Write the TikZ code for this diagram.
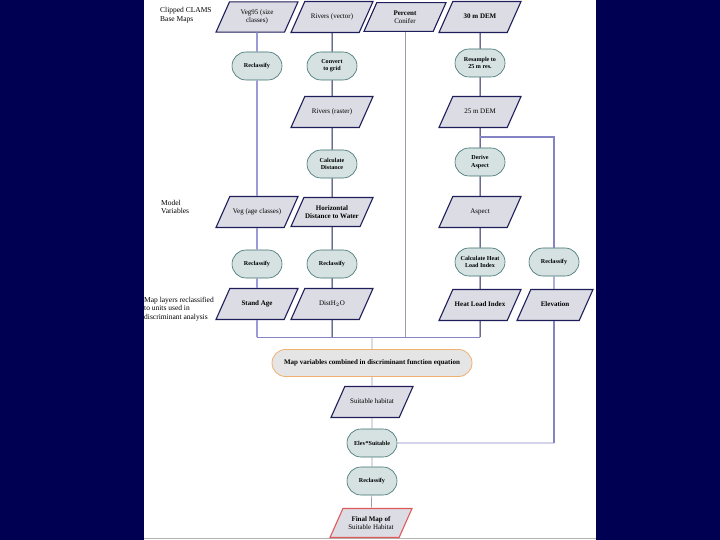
\documentclass[tikz,border=0pt]{standalone}
\usepackage{fontspec}
\setmainfont{Liberation Serif}
\usepackage{tikz}
\usetikzlibrary{shapes.geometric,shapes.misc,positioning}
\definecolor{slide}{HTML}{000052}
\definecolor{layerfill}{HTML}{DCDCE4}
\definecolor{layerline}{HTML}{1E1E5A}
\definecolor{procfill}{HTML}{D6E2E2}
\definecolor{procline}{HTML}{3C6E6E}
\definecolor{vegline}{HTML}{9A9AD6}
\definecolor{conline}{HTML}{9A9AAA}
\definecolor{elevline}{HTML}{8484C4}
\definecolor{combline}{HTML}{F0B070}
\definecolor{finalline}{HTML}{E05A5A}
\tikzset{layerbase/.style={draw=layerline,fill=layerfill,line width=1.1pt,trapezium,
    trapezium left angle=66,trapezium right angle=114,trapezium stretches body,
    minimum width=82pt,inner xsep=1pt,align=center,
    font=\fontsize{7}{8.4}\selectfont}}
% one line of text
\tikzset{layer/.style={layerbase,inner ysep=12.4pt,text height=4.8pt,text depth=1.4pt}}
% two lines of text
\tikzset{layertwo/.style={layerbase,inner ysep=7.8pt}}
\tikzset{process/.style={draw=procline,fill=procfill,line width=0.6pt,rounded rectangle,
    minimum width=52pt,minimum height=28pt,inner sep=1pt,align=center,
    font=\fontsize{6.1}{7.2}\selectfont\bfseries}}
\tikzset{combine/.style={draw=combline,fill=gray!20,line width=0.8pt,rounded rectangle,
    minimum width=202pt,minimum height=27pt,inner sep=1pt,
    font=\fontsize{7}{8}\selectfont\bfseries}}
\tikzset{note/.style={anchor=west,align=left,inner sep=0pt,font=\fontsize{7.5}{8.8}\selectfont}}
\tikzset{wire/.style={draw=layerline,line width=1pt}}
\tikzset{vegwire/.style={draw=vegline,line width=1.8pt}}
\tikzset{conwire/.style={draw=conline,line width=0.7pt}}
\tikzset{elevwire/.style={draw=elevline,line width=1.2pt}}
\begin{document}
\begin{tikzpicture}[x=1pt,y=-1pt]
    \useasboundingbox (0,0) rectangle (720,540);
    % slide and page
    \fill[slide] (0,0) rectangle (720,540);
    \fill[white] (144,0) rectangle (596,540);
    \draw[gray!60] (144,538.5) -- (596,538.5);

    % row labels
    \node[note] (lblbase) at (160,15) {Clipped CLAMS\\Base Maps};
    \node[note] (lblmodel) at (161,207) {Model\\Variables};
    \node[note] (lblmaps) at (144,309) {Map layers reclassified\\to units used in\\discriminant analysis};

    % base maps
    \node[layertwo] (veg95) at (257,17) {Veg95 (size\\classes)};
    \node[layer] (rivvec) at (332,17) {Rivers (vector)};
    \node[layertwo] (conifer) at (405,17) {\textbf{Percent}\\Conifer};
    \node[layer] (dem30) at (480,17) {\textbf{30 m DEM}};

    \node[process] (reclassveg) at (257,66) {Reclassify};
    \node[process] (convert) at (332,66) {Convert\\to grid};
    \node[process] (resample) at (480,63) {Resample to\\25 m res.};

    \node[layer] (rivras) at (332,112) {Rivers (raster)};
    \node[layer] (dem25) at (480,112) {25 m DEM};

    \node[process] (calcdist) at (332,164) {Calculate\\Distance};
    \node[process] (aspectop) at (480,162) {Derive\\Aspect};

    % model variables
    \node[layer] (vegage) at (257,212) {Veg (age classes)};
    \node[layertwo] (hdist) at (332,212) {\textbf{Horizontal}\\\textbf{Distance to Water}};
    \node[layer] (aspect) at (480,212) {Aspect};

    \node[process] (reclassage) at (257,264) {Reclassify};
    \node[process] (reclassdist) at (332,264) {Reclassify};
    \node[process] (heatop) at (480,262) {Calculate Heat\\Load Index};
    \node[process] (reclasselev) at (554,262) {Reclassify};

    % reclassified layers
    \node[layer] (standage) at (257,304) {\textbf{Stand Age}};
    \node[layer] (disth2o) at (332,304) {DistH$_2$O};
    \node[layer] (heatload) at (480,305) {\textbf{Heat Load Index}};
    \node[layer,minimum width=76pt] (elev) at (555,305) {\textbf{Elevation}};

    % combination
    \node[combine] (combine) at (372,363) {Map variables combined in discriminant function equation};
    \node[layer] (suitable) at (372,402) {Suitable habitat};
    \node[process] (elevsuit) at (372,443) {Elev*Suitable};
    \node[process] (reclassfin) at (372,481) {Reclassify};
    \node[layertwo,draw=finalline] (final) at (371,523) {\textbf{Final Map of}\\Suitable Habitat};

    \coordinate (bus) at (372,337);
    \coordinate (fork) at (480,137);
    \coordinate (elevturn) at (554,443);

    % connectors
    \draw[vegwire] (veg95) -- (reclassveg) -- (vegage) -- (reclassage) -- (standage) -- (standage |- bus);
    \draw[wire] (rivvec) -- (convert) -- (rivras) -- (calcdist) -- (hdist) -- (reclassdist) -- (disth2o) -- (disth2o |- bus);
    \draw[conwire] (conifer) -- (conifer |- bus);
    \draw[wire] (dem30) -- (resample) -- (dem25) -- (aspectop) -- (aspect) -- (heatop) -- (heatload) -- (heatload |- bus);
    \draw[elevwire] (fork) -| (reclasselev);
    \draw[elevwire] (reclasselev) -- (reclasselev |- elev.north);
    \draw[elevwire] (reclasselev |- elev.south) -- (elevturn);
    \draw[elevwire,line width=0.8pt] (elevturn) -- (elevsuit);
    \draw[draw=elevline,line width=0.8pt] (standage |- bus) -- (heatload |- bus);
    \draw[conwire] (bus) -- (combine) -- (suitable) -- (elevsuit) -- (reclassfin) -- (final);
\end{tikzpicture}
\end{document}
